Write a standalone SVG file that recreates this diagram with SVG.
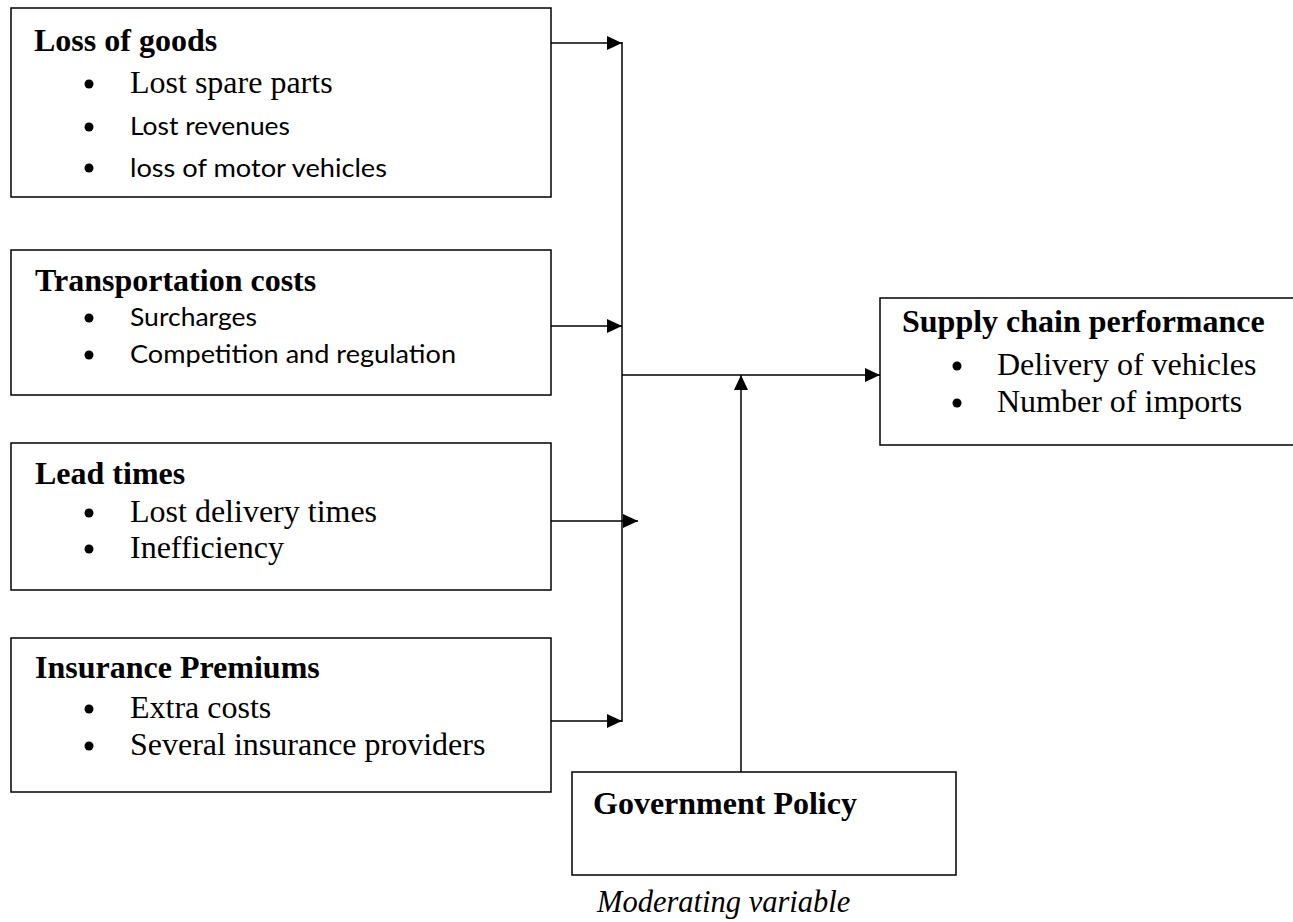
<svg xmlns="http://www.w3.org/2000/svg" width="1293" height="922" viewBox="0 0 1293 922">
<style>
.box{fill:#fff;stroke:#000;stroke-width:1.5}
.t{font-family:"Liberation Serif",serif;font-weight:bold;font-size:32px;fill:#000}
.s{font-family:"Liberation Serif",serif;font-size:32px;fill:#000}
.c{font-family:Lato,"Liberation Sans",sans-serif;font-size:25.5px;fill:#000}
.i{font-family:"Liberation Serif",serif;font-style:italic;font-size:30.5px;fill:#000}
.ln{stroke:#000;stroke-width:1.5;fill:none}
</style>
<defs>
<marker id="ah" markerWidth="15" markerHeight="14" refX="15" refY="7" orient="auto" markerUnits="userSpaceOnUse" viewBox="0 0 15 14">
<path d="M0,0 L15,7 L0,14 z" fill="#000"/>
</marker>
<circle id="b" r="4.5" fill="#000"/>
</defs>
<rect width="1293" height="922" fill="#fff"/>
<g id="n1">
<rect class="box" x="11" y="8" width="540" height="189"/>
<text class="t" x="34" y="51">Loss of goods</text>
<use href="#b" x="89" y="84"/><text class="s" x="130" y="93">Lost spare parts</text>
<use href="#b" x="89" y="127"/><text class="c" x="130" y="135" textLength="160" lengthAdjust="spacingAndGlyphs">Lost revenues</text>
<use href="#b" x="89" y="168"/><text class="c" x="130" y="177" textLength="257" lengthAdjust="spacingAndGlyphs">loss of motor vehicles</text>
</g>
<g id="n2">
<rect class="box" x="11" y="250" width="540" height="145"/>
<text class="t" x="35" y="291">Transportation costs</text>
<use href="#b" x="89" y="318"/><text class="c" x="130" y="326" textLength="127" lengthAdjust="spacingAndGlyphs">Surcharges</text>
<use href="#b" x="89" y="355"/><text class="c" x="130" y="363" textLength="326" lengthAdjust="spacingAndGlyphs">Competition and regulation</text>
</g>
<g id="n3">
<rect class="box" x="11" y="443" width="540" height="147"/>
<text class="t" x="35" y="484">Lead times</text>
<use href="#b" x="89" y="513"/><text class="s" x="130" y="522">Lost delivery times</text>
<use href="#b" x="89" y="549"/><text class="s" x="130" y="558">Inefficiency</text>
</g>
<g id="n4">
<rect class="box" x="11" y="638" width="540" height="154"/>
<text class="t" x="35" y="678">Insurance Premiums</text>
<use href="#b" x="89" y="709"/><text class="s" x="130" y="718">Extra costs</text>
<use href="#b" x="89" y="746"/><text class="s" x="130" y="755">Several insurance providers</text>
</g>
<g id="n5">
<rect class="box" x="880" y="298" width="420" height="147"/>
<text class="t" x="902" y="332">Supply chain performance</text>
<use href="#b" x="957" y="366"/><text class="s" x="997" y="375">Delivery of vehicles</text>
<use href="#b" x="957" y="403"/><text class="s" x="997" y="412">Number of imports</text>
</g>
<g id="n6">
<rect class="box" x="572" y="772" width="384" height="103"/>
<text class="t" x="593" y="814">Government Policy</text>
</g>
<text class="i" x="597" y="912">Moderating variable</text>
<g id="connectors">
<line class="ln" x1="622" y1="42" x2="622" y2="722"/>
<line class="ln" x1="551" y1="43" x2="622" y2="43" marker-end="url(#ah)"/>
<line class="ln" x1="551" y1="326" x2="622" y2="326" marker-end="url(#ah)"/>
<line class="ln" x1="551" y1="521" x2="638" y2="521" marker-end="url(#ah)"/>
<line class="ln" x1="551" y1="721" x2="622" y2="721" marker-end="url(#ah)"/>
<line class="ln" x1="622" y1="375" x2="880" y2="375" marker-end="url(#ah)"/>
<line class="ln" x1="741" y1="772" x2="741" y2="375" marker-end="url(#ah)"/>
</g>
</svg>
